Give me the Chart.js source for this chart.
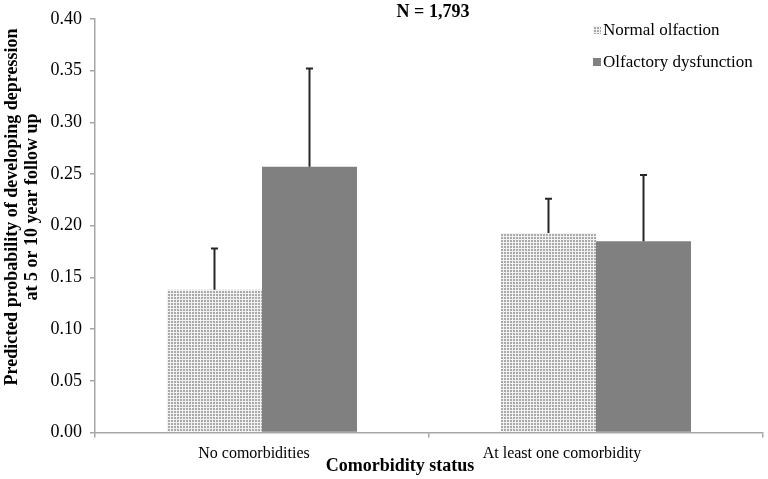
<!DOCTYPE html>
<html>
<head>
<meta charset="utf-8">
<script src="https://cdn.jsdelivr.net/npm/chart.js@4/dist/chart.umd.min.js"></script>
<style>
  body { margin: 0; background: #fff; }
  #wrap { width: 768px; height: 479px; }
</style>
</head>
<body>
<div id="wrap"><canvas id="chart" width="768" height="479"></canvas></div>
<script>
// data
const categories = ['No comorbidities', 'At least one comorbidity'];
const normalValues = [0.138, 0.193];
const normalUpper = [0.178, 0.226];   // top of error bar
const dysValues = [0.257, 0.185];
const dysUpper = [0.352, 0.249];
const yMin = 0, yMax = 0.4, yStep = 0.05;

const chartTitle = 'N = 1,793';
const xTitle = 'Comorbidity status';
const yTitle = ['Predicted probability of developing depression', 'at 5 or 10 year follow up'];

const serif = '"Liberation Serif", serif';

// dotted fill used by the "Normal olfaction" bars
const makeDots = () => {
  const c = document.createElement('canvas');
  c.width = 3; c.height = 3;
  const g = c.getContext('2d');
  g.fillStyle = '#f2f2f2';
  g.fillRect(0, 0, 3, 3);
  g.fillStyle = '#a9a9a9';
  g.fillRect(0, 0, 2, 2);
  return g.createPattern(c, 'repeat');
};
const dots = makeDots();

// upward error bars with a small cap
const errorBars = {
  id: 'errorBars',
  afterDatasetsDraw(chart) {
    const ctx = chart.ctx;
    const y = chart.scales.y;
    ctx.save();
    ctx.strokeStyle = '#262626';
    ctx.lineWidth = 2;
    chart.data.datasets.forEach((ds, i) => {
      const meta = chart.getDatasetMeta(i);
      meta.data.forEach((bar, j) => {
        const top = y.getPixelForValue(ds.upper[j]);
        ctx.beginPath();
        ctx.moveTo(bar.x, bar.y);
        ctx.lineTo(bar.x, top);
        ctx.moveTo(bar.x - 3.5, top);
        ctx.lineTo(bar.x + 3.5, top);
        ctx.stroke();
      });
    });
    ctx.restore();
  }
};

// title, legend and axis titles placed the way the figure has them
const labels = {
  id: 'labels',
  afterDraw(chart) {
    const ctx = chart.ctx;
    ctx.save();
    ctx.fillStyle = '#000';
    ctx.textBaseline = 'middle';
    ctx.textAlign = 'center';
    ctx.font = 'bold 18px ' + serif;
    ctx.fillText(chartTitle, 433, 12);
    ctx.fillText(xTitle, 400, 466);

    ctx.save();
    ctx.translate(12, 207);
    ctx.rotate(-Math.PI / 2);
    ctx.fillText(yTitle[0], 0, 0);
    ctx.fillText(yTitle[1], 0, 20);
    ctx.restore();

    // legend
    ctx.textAlign = 'left';
    ctx.font = 'normal 17px ' + serif;
    chart.data.datasets.forEach((ds, i) => {
      const cy = 30 + i * 32;
      ctx.fillStyle = ds.backgroundColor;
      ctx.fillRect(593, cy - 4, 8, 8);
      ctx.fillStyle = '#000';
      ctx.fillText(ds.label, 603, cy + 1);
    });
    ctx.restore();
  }
};

// Excel pushed the category labels a bit left of their bars
const labelPad = [4, 17];

const draw = () => new Chart(document.getElementById('chart'), {
  type: 'bar',
  data: {
    labels: categories,
    datasets: [
      {
        label: 'Normal olfaction',
        data: normalValues,
        upper: normalUpper,
        backgroundColor: dots,
        borderWidth: 0,
        categoryPercentage: 0.569,
        barPercentage: 1
      },
      {
        label: 'Olfactory dysfunction',
        data: dysValues,
        upper: dysUpper,
        backgroundColor: '#808080',
        borderWidth: 0,
        categoryPercentage: 0.569,
        barPercentage: 1
      }
    ]
  },
  options: {
    responsive: false,
    animation: false,
    layout: { padding: { top: 19, right: 5, left: 0, bottom: 0 } },
    plugins: {
      legend: { display: false },
      tooltip: { enabled: false },
      title: { display: false }
    },
    scales: {
      x: {
        afterFit: (s) => { s.height = 46.5; },
        grid: { display: true, drawOnChartArea: false, offset: true, tickLength: 5, color: '#a6a6a6', lineWidth: 1.5 },
        border: { color: '#a6a6a6', width: 1.5 },
        ticks: {
          color: '#000',
          font: { family: serif, size: 16, weight: 'normal' },
          padding: 7,
          callback: function (v, i) { return categories[i] + ' '.repeat(labelPad[i]); }
        }
      },
      y: {
        min: yMin,
        max: yMax,
        afterFit: (s) => { s.width = 95; },
        grid: { display: true, drawOnChartArea: false, tickLength: 5, color: '#a6a6a6', lineWidth: 1.5 },
        border: { color: '#a6a6a6', width: 1.5 },
        ticks: {
          stepSize: yStep,
          color: '#000',
          font: { family: serif, size: 18, weight: 'normal' },
          padding: 8,
          callback: (v) => v.toFixed(2)
        }
      }
    }
  },
  plugins: [errorBars, labels]
});

Promise.all([
  document.fonts.load('16px "Liberation Serif"'),
  document.fonts.load('bold 18px "Liberation Serif"')
]).then(draw, draw);
</script>
</body>
</html>
